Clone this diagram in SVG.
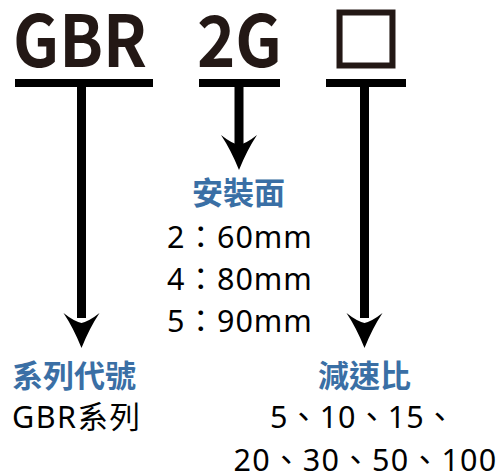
<svg xmlns="http://www.w3.org/2000/svg" width="497" height="474" viewBox="0 0 497 474">
<style>
.code{font-family:"Noto Sans CJK TC",sans-serif;font-weight:700;font-size:71px;fill:#231815}
.box{font-family:"Noto Sans","Noto Sans CJK JP",sans-serif;font-weight:700;font-size:70px;fill:#231815;stroke:#231815;stroke-width:3}
.head{font-family:"Noto Sans CJK TC",sans-serif;font-weight:700;font-size:31px;fill:#3a6fa5}
.body{font-family:"Noto Sans","Noto Sans CJK TC",sans-serif;font-size:30.5px;fill:#000;letter-spacing:1px}
.bar{fill:#000}
</style>
<defs>
<path id="head" d="M0,0 Q-8,-20 -18,-35 Q-8,-27 0,-25 Q8,-27 18,-35 Q8,-20 0,0 Z"/>
</defs>
<g id="node-series">
<text class="code" x="13" y="67" textLength="134" lengthAdjust="spacingAndGlyphs">GBR</text>
<text class="head" x="12" y="387">系列代號</text>
<text class="body" x="12" y="428" style="letter-spacing:1.5px">GBR系列</text>
</g>
<g id="node-mount">
<text class="code" x="197" y="67" textLength="85" lengthAdjust="spacingAndGlyphs">2G</text>
<text class="head" x="238.5" y="204" text-anchor="middle">安裝面</text>
<text class="body" x="167" y="248">2：60mm</text>
<text class="body" x="167" y="290">4：80mm</text>
<text class="body" x="167" y="332">5：90mm</text>
</g>
<g id="node-ratio">
<text class="box" x="331" y="66">□</text>
<text class="head" x="364.5" y="387" text-anchor="middle">減速比</text>
<text class="body" x="270" y="428" style="letter-spacing:0.9px">5、10、15、</text>
<text class="body" x="233.5" y="471" style="letter-spacing:1.3px">20、30、50、100</text>
</g>
<g id="connectors">
<rect class="bar" x="15" y="79" width="138" height="8"/>
<rect class="bar" x="77" y="83" width="9" height="235"/>
<use href="#head" x="81.5" y="348"/>
<rect class="bar" x="199" y="79" width="81" height="8"/>
<rect class="bar" x="234.5" y="83" width="9" height="70"/>
<use href="#head" x="239" y="170"/>
<rect class="bar" x="326" y="79" width="80" height="8"/>
<rect class="bar" x="360" y="83" width="9" height="235"/>
<use href="#head" x="364.5" y="348"/>
</g>
</svg>
